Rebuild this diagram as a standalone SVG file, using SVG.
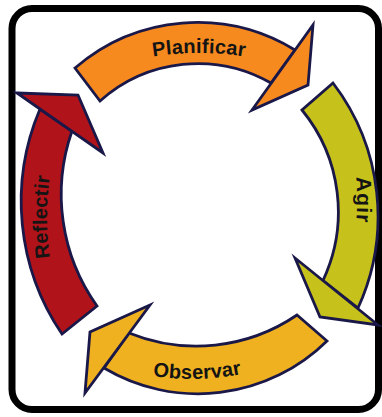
<svg xmlns="http://www.w3.org/2000/svg" width="382" height="417" viewBox="0 0 382 417">
<style>
.sh{stroke:#1a1848;stroke-width:2.8;stroke-linejoin:miter;stroke-miterlimit:12}
.lbl{font-family:"Liberation Sans",Arial,sans-serif;font-weight:bold;font-size:20px;fill:#141414;letter-spacing:0.2px}
</style>
<defs>
<path id="pPlan" d="M100,69.8 A300,300 0 0 1 298,69.8"/>
<path id="pAgir" d="M343.2,110 A300,300 0 0 1 343.2,290"/>
<path id="pObs" d="M102,362.2 A250,250 0 0 0 292,358.1"/>
<path id="pRef" d="M60.8,307 A300,300 0 0 1 60.8,127"/>
</defs>
<rect x="0" y="0" width="382" height="417" fill="#ffffff"/>
<rect id="frame" x="12" y="8.5" width="366.5" height="401" rx="20" fill="none" stroke="#000" stroke-width="7"/>
<g id="planificar">
<path class="sh" fill="#F68A1F" d="M75,68 A187,187 0 0 1 295,50 L271,83 A147,147 0 0 0 100,101 Z"/>
<polygon class="sh" fill="#F68A1F" points="313,25 308,85 252,110"/>
<text class="lbl"><textPath href="#pPlan" startOffset="50%" text-anchor="middle">Planificar</textPath></text>
</g>
<g id="agir">
<path class="sh" fill="#C7C21B" d="M333,83 A220,220 0 0 1 358,308 L323,280.5 A161,161 0 0 0 302,110 Z"/>
<polygon class="sh" fill="#C7C21B" points="295,258 320,317 378,325"/>
<text class="lbl" style="font-size:21px;letter-spacing:1px"><textPath href="#pAgir" startOffset="50%" text-anchor="middle">Agir</textPath></text>
</g>
<g id="observar">
<path class="sh" fill="#EFB120" d="M327,341 A184,184 0 0 1 104,368 L129,333 A179,179 0 0 0 297,315 Z"/>
<polygon class="sh" fill="#EFB120" points="150,305 90,332 85,393"/>
<text class="lbl"><textPath href="#pObs" startOffset="50%" text-anchor="middle">Observar</textPath></text>
</g>
<g id="reflectir">
<path class="sh" fill="#B01319" d="M62,334 A236,236 0 0 1 40,109 L72,131 A192,192 0 0 0 97,306 Z"/>
<polygon class="sh" fill="#B01319" points="17,93 78,95 103,153"/>
<text class="lbl"><textPath href="#pRef" startOffset="50%" text-anchor="middle">Reflectir</textPath></text>
</g>
</svg>
